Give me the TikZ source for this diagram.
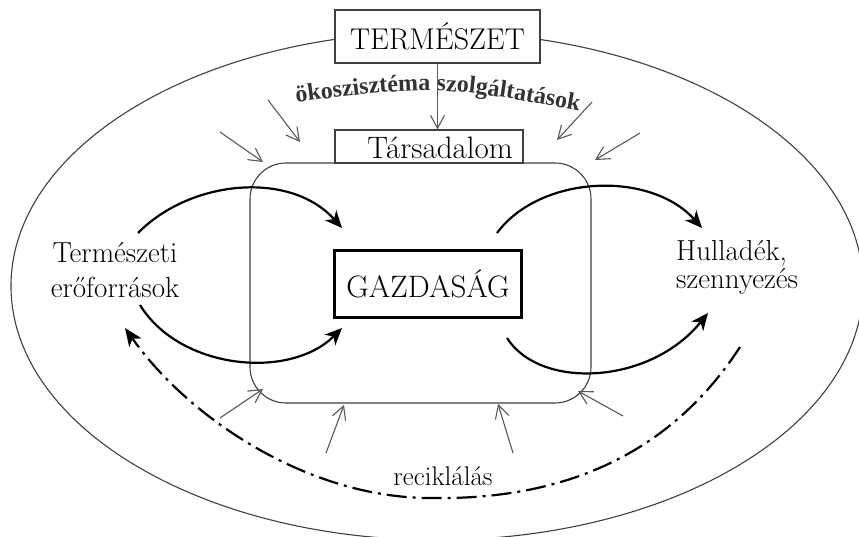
\documentclass[tikz,border=0pt]{standalone}
\usepackage{fontspec}
\newfontfamily\wordart{Liberation Serif}
\usetikzlibrary{arrows.meta,decorations.text}

\begin{document}
\begin{tikzpicture}[x=1pt,y=-1pt,
  thinline/.style={line width=1.1pt, draw=black!75},
  influx/.style={line width=1.1pt, draw=black!65,
    -{Straight Barb[length=13pt,width=14pt,line width=1.1pt]}},
  flow/.style={line width=2.2pt, -{Stealth[length=17pt,width=15pt,inset=5pt]}},
  recycle/.style={line width=2.2pt, dash pattern=on 20pt off 6pt on 3pt off 6pt,
    -{Stealth[length=18pt,width=15pt,inset=5pt]}},
  labeltext/.style={inner sep=0pt, font=\fontsize{29}{35}\selectfont},
  arctext/.style={decorate, decoration={text along path, text align=center,
    text color=black!80,
    text={|\wordart\bfseries\fontsize{24}{24}\selectfont|ökoszisztéma szolgáltatások}}},
]
\useasboundingbox (0,0) rectangle (859,537);
\fill[white] (0,0) rectangle (859,537);

% nature: the outer ellipse
\draw[line width=1.1pt, black!75] (437,286) ellipse [x radius=426, y radius=254];

% society: rounded frame around the economy
\draw[thinline, rounded corners=36pt] (250,163) rectangle (591,403);

% boxes
\node[draw, thinline, fill=white, minimum width=205pt, minimum height=53pt,
      inner sep=0pt, font=\fontsize{30}{30}\selectfont] (nature) at (437.5,36.5) {TERMÉSZET};
\node[draw, thinline, minimum width=188pt, minimum height=33pt, inner sep=0pt] (society) at (429,146.5) {};
\node[anchor=base, inner sep=0pt, font=\fontsize{31}{31}\selectfont] (societylabel) at (440,159) {Társadalom};
\node[draw, line width=3pt, minimum width=187pt, minimum height=67pt,
      inner sep=0pt, font=\fontsize{31}{31}\selectfont] (economy) at (428,284) {GAZDASÁG};

% side labels
\node[labeltext, align=center] (resources) at (115,270) {Természeti\\erőforrások};
\node[labeltext, align=left, font=\fontsize{29}{28}\selectfont, anchor=west] (waste) at (676,267) {Hulladék,\\szennyezés};
\node[inner sep=0pt, anchor=base, font=\fontsize{27}{27}\selectfont] (recycling) at (443,485) {reciklálás};

% ecosystem services written along an arc
\path[arctext] (270,106) .. controls (437,84) .. (605,116);

% flow end points
\coordinate (resUp) at (138,233);
\coordinate (resDown) at (140,305);
\coordinate (ecoInUp) at (342,228);
\coordinate (ecoInDown) at (342,328);
\coordinate (ecoOutUp) at (497,233);
\coordinate (ecoOutDown) at (507,338);
\coordinate (wasteUp) at (702,228);
\coordinate (wasteDown) at (708,313);
\coordinate (recStart) at (740,347);
\coordinate (recEnd) at (125,328);

% material flows
\draw[flow] (resUp) .. controls (190,180) and (290,170) .. (ecoInUp);
\draw[flow] (resDown) .. controls (180,370) and (290,380) .. (ecoInDown);
\draw[flow] (ecoOutUp) .. controls (540,175) and (650,170) .. (wasteUp);
\draw[flow] (ecoOutDown) .. controls (540,390) and (650,385) .. (wasteDown);

% recycling loop
\draw[recycle] (recStart) .. controls (660,470) and (540,500) .. (430,498)
  .. controls (310,498) and (190,420) .. (recEnd);

% services flowing from nature into society
\draw[influx] (nature.south) -- (nature.south |- society.north);
\coordinate (s1a) at (268,100); \coordinate (s1b) at (300,142);
\coordinate (s2a) at (220,132); \coordinate (s2b) at (263,162);
\coordinate (s3a) at (592,102); \coordinate (s3b) at (557,140);
\coordinate (s4a) at (640,133); \coordinate (s4b) at (595,160);
\coordinate (s5a) at (220,418); \coordinate (s5b) at (263,389);
\coordinate (s6a) at (326,453); \coordinate (s6b) at (344,405);
\coordinate (s7a) at (513,453); \coordinate (s7b) at (498,404);
\coordinate (s8a) at (623,416); \coordinate (s8b) at (578,391);
\foreach \k in {1,...,8} { \draw[influx] (s\k a) -- (s\k b); }
\end{tikzpicture}
\end{document}
